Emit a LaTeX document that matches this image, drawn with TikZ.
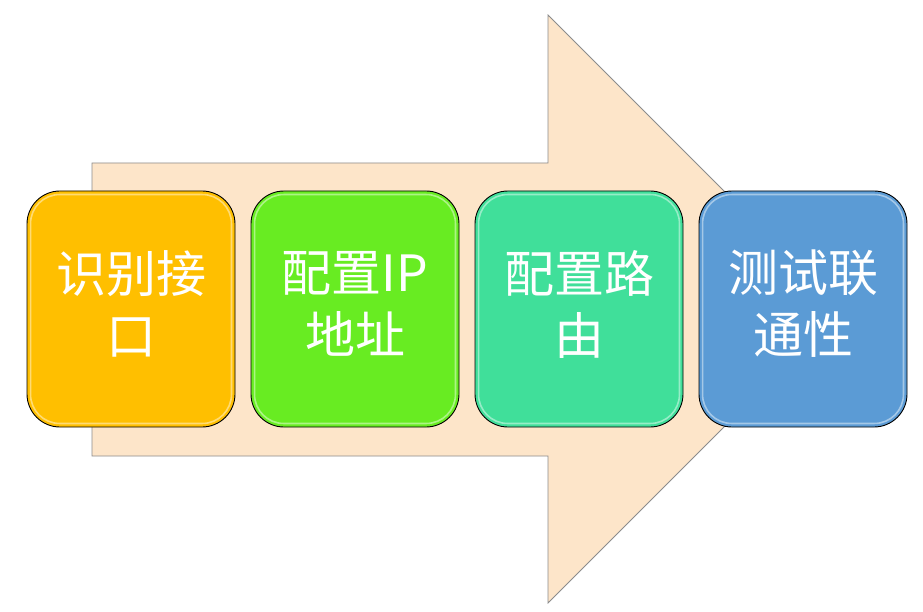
\documentclass[tikz,border=0pt]{standalone}
\usepackage{fontspec}
\newfontfamily\cjk{Noto Sans CJK SC}
\definecolor{arrowfill}{HTML}{FDE5C9}
\definecolor{arrowline}{HTML}{8C8C8C}
\definecolor{cA}{HTML}{FFBF00}
\definecolor{cB}{HTML}{68EC22}
\definecolor{cC}{HTML}{40DF9A}
\definecolor{cD}{HTML}{5B9BD5}
\begin{document}
\begin{tikzpicture}[x=1pt,y=-1pt,
  stepbox/.style={draw=black,line width=0.9pt,rounded corners=33pt,minimum width=208pt,minimum height=236pt,inner sep=0pt},
  steptext/.style={text=white,font=\cjk\fontsize{50}{62}\selectfont,align=center,text width=200pt,inner sep=0pt},
  gloss/.style={draw=white,draw opacity=0.45,line width=1.6pt,rounded corners=29pt}]
\useasboundingbox (0,0) rectangle (923,612);
\fill[white] (0,0) rectangle (923,612);
\draw[fill=arrowfill,draw=arrowline,line width=0.8pt]
  (92,163) -- (548,163) -- (548,15) -- (842,309) -- (548,603) -- (548,456) -- (92,456) -- cycle;
\node[stepbox,fill=cA] (s1) at (131,309) {};
\node[stepbox,fill=cB] (s2) at (355,309) {};
\node[stepbox,fill=cC] (s3) at (579,309) {};
\node[stepbox,fill=cD] (s4) at (803,309) {};
\foreach \n in {s1,s2,s3,s4}{
  \draw[gloss] ([shift={(4pt,-4pt)}]\n.north west) rectangle ([shift={(-4pt,4pt)}]\n.south east);
}
\node[steptext] (t1) at (131,304) {识别接\\口};
\node[steptext] (t2) at (355,304) {配置IP\\地址};
\node[steptext] (t3) at (579,304) {配置路\\由};
\node[steptext] (t4) at (803,304) {测试联\\通性};
\end{tikzpicture}
\end{document}
